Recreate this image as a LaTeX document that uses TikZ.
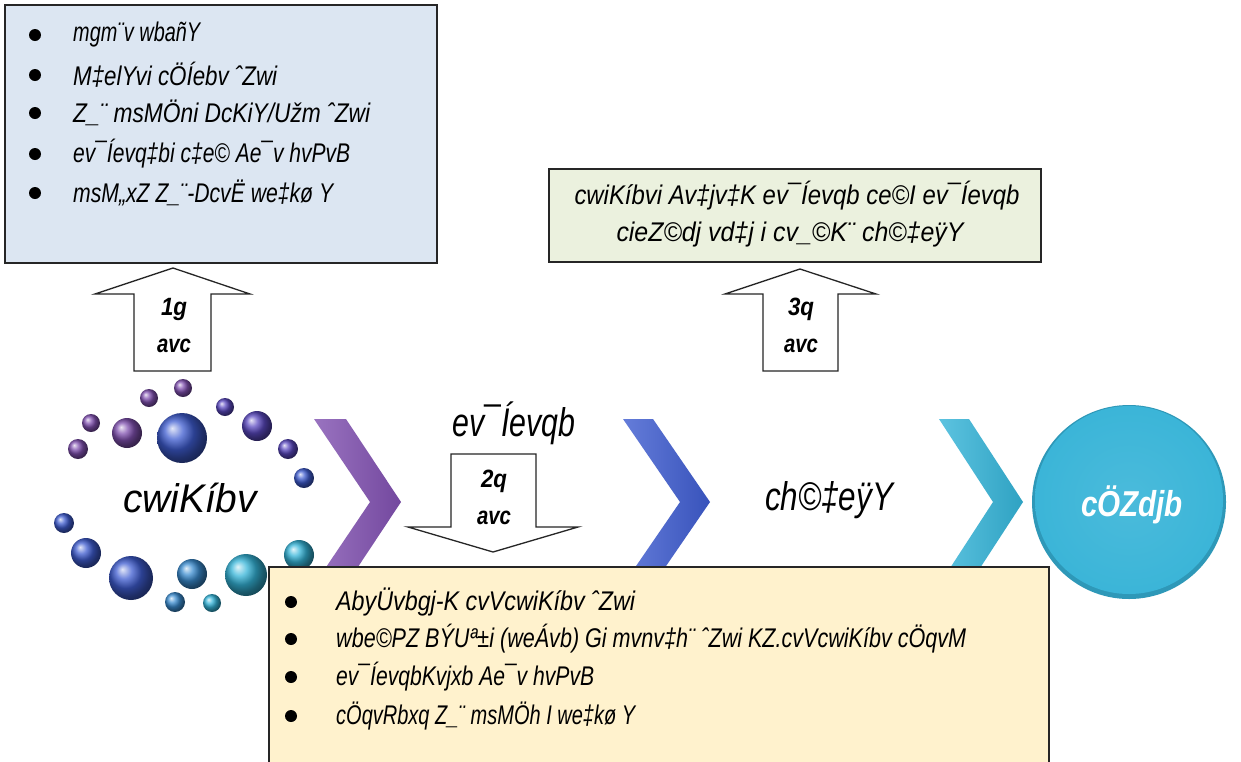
\documentclass[tikz,border=0pt]{standalone}
\usepackage{graphicx}
\usepackage{fontspec}
\newfontfamily\bn{Liberation Sans}
\usetikzlibrary{shapes.geometric}
\definecolor{bluebox}{HTML}{DCE6F2}
\definecolor{greenbox}{HTML}{EBF1DE}
\definecolor{yellowbox}{HTML}{FFF2CD}
\definecolor{cpurple}{HTML}{8050B0}
\definecolor{cviolet}{HTML}{5A48C0}
\definecolor{cblue}{HTML}{3E5CD0}
\definecolor{cbcyan}{HTML}{3A8CD0}
\definecolor{ccyan}{HTML}{34B4D8}
\definecolor{circfill}{HTML}{3BB5D8}
\definecolor{circedge}{HTML}{2E98B8}
\newcommand{\fw}[2]{\resizebox{#1pt}{\height}{#2}}
\tikzset{
  infobox/.style={draw=black!85, line width=1.6pt},
  bl/.style={anchor=west, font=\bn\itshape\fontsize{27}{29}\selectfont, inner sep=0pt},
  gl/.style={font=\bn\itshape\fontsize{27}{29}\selectfont, inner sep=0pt},
  dot/.style={circle, fill=black, inner sep=0pt, minimum size=12pt},
  bigl/.style={font=\bn\itshape\fontsize{40}{42}\selectfont, inner sep=0pt},
  steplab/.style={font=\bn\itshape\bfseries\fontsize{25}{27}\selectfont, inner sep=0pt},
  blockarrow/.style={draw=black!85, fill=white, line width=1.3pt, line join=miter},
}
\begin{document}
\begin{tikzpicture}[x=1pt,y=-1pt]
\clip (0,0) rectangle (1241,761);
\fill[white] (0,0) rectangle (1241,761);

% balls
\foreach \x/\y/\r/\c in {183/388/9/cpurple,149/398/9/cpurple,225/407/9/cviolet,91/423/9/cpurple,
  127/433/15/cpurple,182/438/25/cblue,257/426/15/cviolet,78/449/10/cpurple,288/449/10/cviolet,
  304/478/10/cblue,64/523/10/cblue,86/553/15/cblue,131/578/22/cblue,192/574/15/cbcyan,
  246/575/21/ccyan,299/555/15/ccyan,175/602/10/cbcyan,212/603/9/ccyan}
  \shade[ball color=\c] (\x,\y) circle (\r);

% chevrons
\shade[left color=cpurple!80!white, right color=cpurple!90!black]
  (314,419) -- (346,419) -- (401,502) -- (346,585) -- (314,585) -- (370,502) -- cycle;
\shade[left color=cblue!80!white, right color=cblue!90!black]
  (623,419) -- (653,419) -- (710,502) -- (653,585) -- (623,585) -- (680,502) -- cycle;
\shade[left color=ccyan!80!white, right color=ccyan!90!black]
  (939,419) -- (969,419) -- (1023,502) -- (969,585) -- (939,585) -- (993,502) -- cycle;

% result circle
\fill[circedge] (1129,502) circle (97);
\shade[inner color=circfill!92!white, outer color=circfill] (1129,500) circle (94);
\node[font=\bn\itshape\bfseries\fontsize{36}{38}\selectfont, text=white, inner sep=0pt] (res) at (1132,505) {\fw{102}{cÖZdjb}};

% big labels
\node[bigl] (plan) at (190,498) {\fw{134}{cwiKíbv}};
\node[bigl] (impl) at (514,423) {\fw{123}{ev¯Íevqb}};
\node[bigl] (obs) at (829,500) {\fw{128}{ch©‡eÿY}};

% blue box
\draw[infobox, fill=bluebox] (5,5) rectangle (437,263);
\foreach \i/\y/\w/\t in {1/35/127/{mgm¨v wbañY},2/75/204/{M‡elYvi cÖÍebv ˆZwi},3/113/297/{Z\_¨ msMÖni DcKiY/Užm ˆZwi},
  4/154/277/{ev¯Íevq‡bi c‡e© Ae¯v hvPvB},5/193/260/{msM„xZ Z\_¨-DcvË we‡kø Y}}{
  \node[dot] (bd\i) at (35,\y) {};
  \node[bl] (bt\i) at (73,\y) {\fw{\w}{\t}};
}

% green box
\draw[infobox, fill=greenbox] (549,169) rectangle (1041,262);
\node[gl] (g1) at (797,196) {\fw{445}{cwiKíbvi Av‡jv‡K ev¯Íevqb ce©I ev¯Íevqb}};
\node[gl] (g2) at (790,235) {\fw{347}{cieZ©dj vd‡j i cv\_©K¨ ch©‡eÿY}};

% yellow box
\draw[infobox, fill=yellowbox] (269,567) rectangle (1049,770);
\foreach \i/\y/\w/\t in {1/602/299/{AbyÜvbgj-K cvVcwiKíbv ˆZwi},2/639/630/{wbe©PZ BÝUª±i (weÁvb) Gi mvnv‡h¨ ˆZwi KZ.cvVcwiKíbv cÖqvM},
  3/677/258/{ev¯ÍevqbKvjxb Ae¯v hvPvB},4/716/299/{cÖqvRbxq Z\_¨ msMÖh I we‡kø Y}}{
  \node[dot] (yd\i) at (291,\y) {};
  \node[bl] (yt\i) at (336,\y) {\fw{\w}{\t}};
}

% block arrows
\draw[blockarrow] (173,268) -- (250,294) -- (211,294) -- (211,371) -- (134,371) -- (134,294) -- (95,294) -- cycle;
\node[steplab] (a1a) at (174,309) {\fw{26}{1g}};
\node[steplab] (a1b) at (174,346) {\fw{34}{avc}};
\draw[blockarrow] (800,269) -- (876,294) -- (838,294) -- (838,371) -- (763,371) -- (763,294) -- (725,294) -- cycle;
\node[steplab] (a3a) at (801,309) {\fw{26}{3q}};
\node[steplab] (a3b) at (801,346) {\fw{34}{avc}};
\draw[blockarrow] (493,552) -- (578,527) -- (536,527) -- (536,454) -- (451,454) -- (451,527) -- (408,527) -- cycle;
\node[steplab] (a2a) at (494,481) {\fw{26}{2q}};
\node[steplab] (a2b) at (494,518) {\fw{34}{avc}};
\end{tikzpicture}
\end{document}
